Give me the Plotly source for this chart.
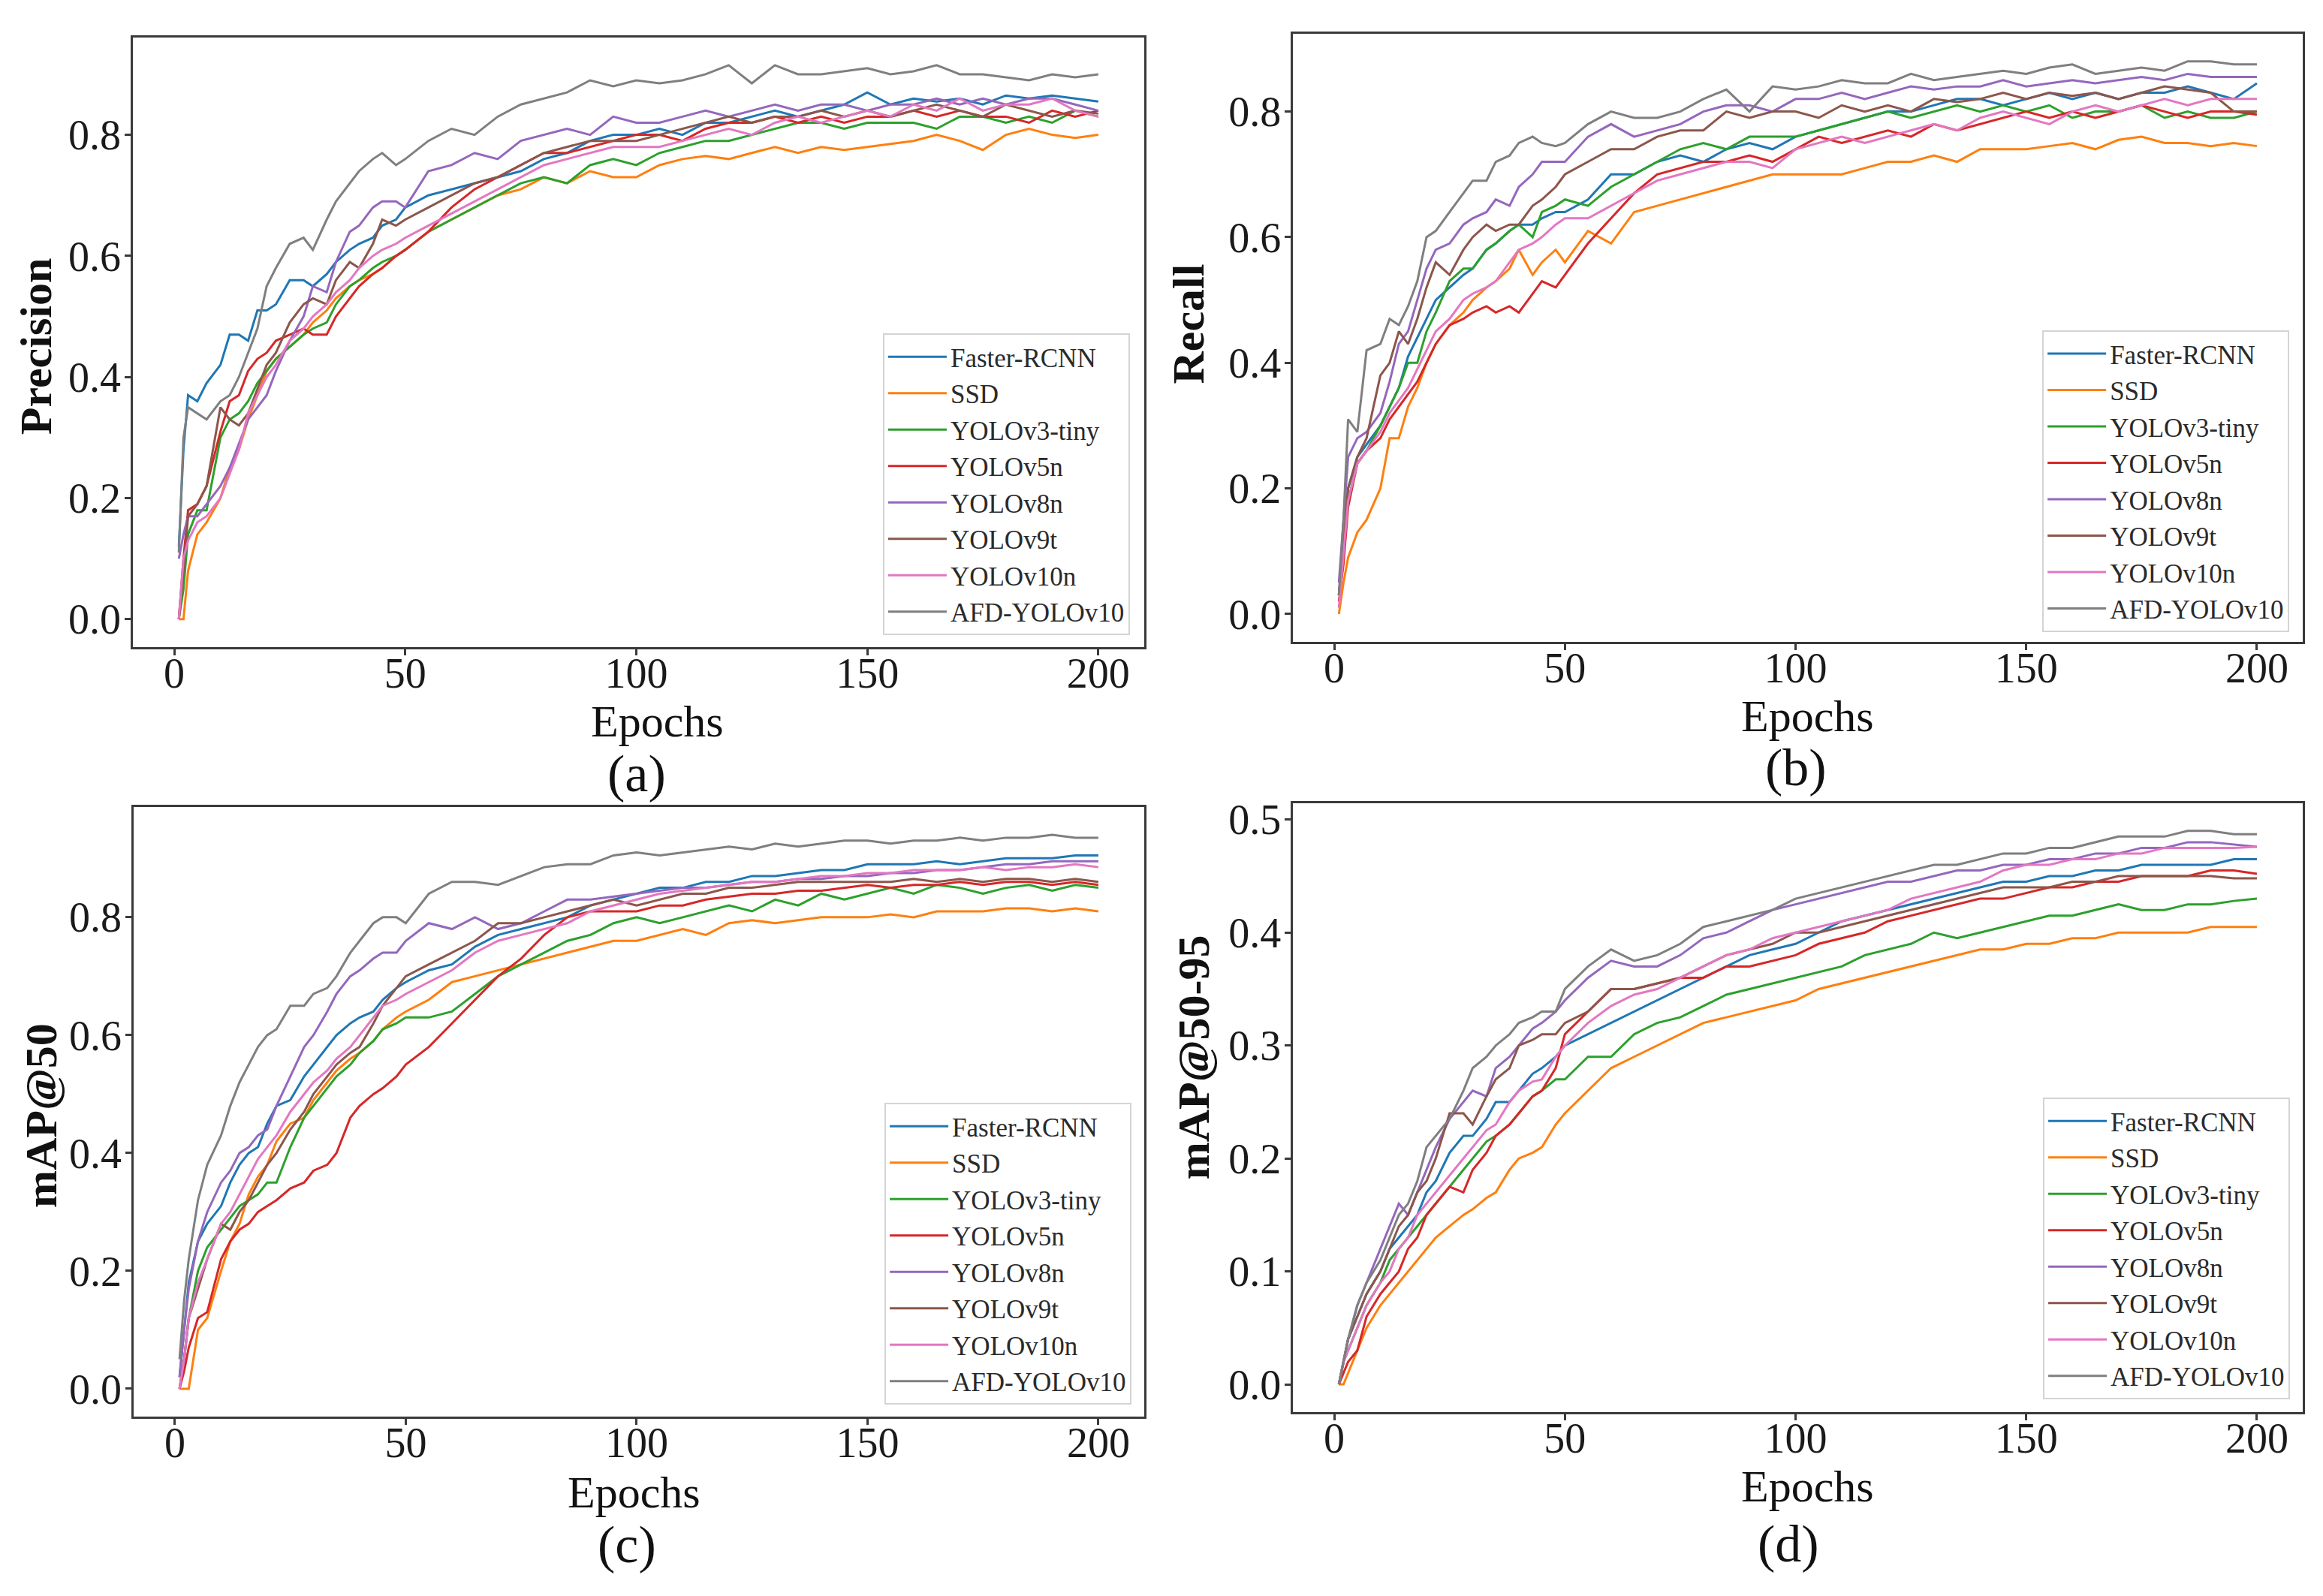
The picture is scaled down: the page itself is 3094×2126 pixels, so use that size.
import plotly.graph_objects as go

epochs = [1, 2, 3, 5, 7, 10, 12, 14, 16, 18,
          20, 22, 25, 28, 30, 33, 35, 38, 40, 43,
          45, 48, 50, 55, 60, 65, 70, 75, 80, 85,
          90, 95, 100, 105, 110, 115, 120, 125, 130, 135,
          140, 145, 150, 155, 160, 165, 170, 175, 180, 185,
          190, 195, 200]

models = ["Faster-RCNN", "SSD", "YOLOv3-tiny", "YOLOv5n",
          "YOLOv8n", "YOLOv9t", "YOLOv10n", "AFD-YOLOv10"]
colors = ["#1f77b4", "#ff7f0e", "#2ca02c", "#d62728",
          "#9467bd", "#8c564b", "#e377c2", "#7f7f7f"]

# (a) Precision
prec_faster = [0.12, 0.28, 0.37, 0.36, 0.39, 0.42, 0.47, 0.47, 0.46, 0.51,
               0.51, 0.52, 0.56, 0.56, 0.55, 0.57, 0.59, 0.61, 0.62, 0.63,
               0.65, 0.66, 0.68, 0.70, 0.71, 0.72, 0.73, 0.74, 0.76, 0.77,
               0.79, 0.80, 0.80, 0.81, 0.80, 0.82, 0.82, 0.83, 0.84, 0.83,
               0.84, 0.85, 0.87, 0.85, 0.86, 0.855, 0.86, 0.85, 0.865, 0.86,
               0.865, 0.86, 0.855]
prec_ssd = [0.0, 0.0, 0.08, 0.14, 0.16, 0.20, 0.25, 0.28, 0.33, 0.37,
            0.41, 0.43, 0.45, 0.47, 0.49, 0.51, 0.53, 0.55, 0.56, 0.57,
            0.58, 0.60, 0.61, 0.64, 0.66, 0.68, 0.70, 0.71, 0.73, 0.72,
            0.74, 0.73, 0.73, 0.75, 0.76, 0.765, 0.76, 0.77, 0.78, 0.77,
            0.78, 0.775, 0.78, 0.785, 0.79, 0.80, 0.79, 0.775, 0.80, 0.81,
            0.80, 0.795, 0.80]
prec_v3 = [0.0, 0.05, 0.14, 0.18, 0.18, 0.30, 0.33, 0.34, 0.36, 0.39,
           0.41, 0.43, 0.45, 0.47, 0.48, 0.49, 0.52, 0.55, 0.56, 0.58,
           0.59, 0.60, 0.61, 0.64, 0.66, 0.68, 0.70, 0.72, 0.73, 0.72,
           0.75, 0.76, 0.75, 0.77, 0.78, 0.79, 0.79, 0.80, 0.81, 0.82,
           0.82, 0.81, 0.82, 0.82, 0.82, 0.81, 0.83, 0.83, 0.82, 0.83,
           0.82, 0.84, 0.83]
prec_v5 = [0.0, 0.10, 0.18, 0.19, 0.22, 0.31, 0.36, 0.37, 0.41, 0.43,
           0.44, 0.46, 0.47, 0.48, 0.47, 0.47, 0.50, 0.53, 0.55, 0.57,
           0.58, 0.60, 0.61, 0.64, 0.68, 0.71, 0.73, 0.75, 0.77, 0.77,
           0.78, 0.79, 0.80, 0.80, 0.79, 0.81, 0.82, 0.82, 0.83, 0.82,
           0.83, 0.82, 0.83, 0.83, 0.84, 0.83, 0.84, 0.83, 0.83, 0.82,
           0.84, 0.83, 0.84]
prec_v8 = [0.10, 0.14, 0.17, 0.17, 0.19, 0.22, 0.25, 0.29, 0.33, 0.35,
           0.37, 0.41, 0.46, 0.50, 0.55, 0.54, 0.59, 0.64, 0.65, 0.68,
           0.69, 0.69, 0.68, 0.74, 0.75, 0.77, 0.76, 0.79, 0.80, 0.81,
           0.80, 0.83, 0.82, 0.82, 0.83, 0.84, 0.83, 0.84, 0.85, 0.84,
           0.85, 0.85, 0.84, 0.85, 0.85, 0.86, 0.85, 0.86, 0.85, 0.86,
           0.86, 0.85, 0.84]
prec_v9 = [0.0, 0.08, 0.17, 0.19, 0.22, 0.35, 0.33, 0.32, 0.34, 0.38,
           0.42, 0.44, 0.49, 0.52, 0.53, 0.52, 0.56, 0.59, 0.58, 0.62,
           0.66, 0.65, 0.66, 0.68, 0.70, 0.72, 0.73, 0.75, 0.77, 0.78,
           0.79, 0.79, 0.79, 0.80, 0.81, 0.82, 0.83, 0.82, 0.83, 0.83,
           0.84, 0.83, 0.84, 0.83, 0.84, 0.85, 0.84, 0.83, 0.85, 0.84,
           0.83, 0.84, 0.835]
prec_v10 = [0.0, 0.10, 0.13, 0.16, 0.17, 0.20, 0.24, 0.28, 0.34, 0.37,
            0.40, 0.42, 0.46, 0.48, 0.50, 0.52, 0.54, 0.56, 0.58, 0.60,
            0.61, 0.62, 0.63, 0.65, 0.67, 0.69, 0.71, 0.73, 0.75, 0.76,
            0.77, 0.78, 0.78, 0.78, 0.79, 0.80, 0.81, 0.80, 0.82, 0.83,
            0.82, 0.83, 0.84, 0.83, 0.85, 0.84, 0.86, 0.84, 0.85, 0.85,
            0.86, 0.84, 0.83]
prec_afd = [0.11, 0.30, 0.35, 0.34, 0.33, 0.36, 0.37, 0.40, 0.44, 0.48,
            0.55, 0.58, 0.62, 0.63, 0.61, 0.66, 0.69, 0.72, 0.74, 0.76,
            0.77, 0.75, 0.76, 0.79, 0.81, 0.80, 0.83, 0.85, 0.86, 0.87,
            0.89, 0.88, 0.89, 0.885, 0.89, 0.90, 0.915, 0.885, 0.915, 0.90,
            0.90, 0.905, 0.91, 0.90, 0.905, 0.915, 0.90, 0.90, 0.895, 0.89,
            0.90, 0.895, 0.90]

# (b) Recall
rec_faster = [0.03, 0.12, 0.20, 0.25, 0.27, 0.30, 0.33, 0.36, 0.41, 0.44,
              0.47, 0.50, 0.52, 0.54, 0.55, 0.58, 0.59, 0.61, 0.62, 0.62,
              0.63, 0.64, 0.64, 0.66, 0.70, 0.70, 0.72, 0.73, 0.72, 0.74,
              0.75, 0.74, 0.76, 0.77, 0.78, 0.79, 0.80, 0.80, 0.81, 0.82,
              0.82, 0.81, 0.82, 0.83, 0.82, 0.83, 0.82, 0.83, 0.83, 0.84,
              0.83, 0.82, 0.845]
rec_ssd = [0.0, 0.05, 0.09, 0.13, 0.15, 0.20, 0.28, 0.28, 0.33, 0.36,
           0.40, 0.43, 0.46, 0.48, 0.50, 0.52, 0.53, 0.55, 0.58, 0.54,
           0.56, 0.58, 0.56, 0.61, 0.59, 0.64, 0.65, 0.66, 0.67, 0.68,
           0.69, 0.70, 0.70, 0.70, 0.70, 0.71, 0.72, 0.72, 0.73, 0.72,
           0.74, 0.74, 0.74, 0.745, 0.75, 0.74, 0.755, 0.76, 0.75, 0.75,
           0.745, 0.75, 0.745]
rec_v3 = [0.03, 0.10, 0.18, 0.24, 0.26, 0.30, 0.33, 0.36, 0.40, 0.40,
          0.45, 0.48, 0.53, 0.55, 0.55, 0.58, 0.59, 0.61, 0.62, 0.60,
          0.64, 0.65, 0.66, 0.65, 0.68, 0.70, 0.72, 0.74, 0.75, 0.74,
          0.76, 0.76, 0.76, 0.77, 0.78, 0.79, 0.80, 0.79, 0.80, 0.81,
          0.80, 0.81, 0.80, 0.81, 0.79, 0.80, 0.80, 0.81, 0.79, 0.80,
          0.79, 0.79, 0.80]
rec_v5 = [0.02, 0.08, 0.17, 0.24, 0.26, 0.28, 0.31, 0.33, 0.35, 0.37,
          0.40, 0.43, 0.46, 0.47, 0.48, 0.49, 0.48, 0.49, 0.48, 0.51,
          0.53, 0.52, 0.54, 0.59, 0.63, 0.67, 0.70, 0.71, 0.72, 0.72,
          0.73, 0.72, 0.74, 0.76, 0.75, 0.76, 0.77, 0.76, 0.78, 0.77,
          0.78, 0.79, 0.80, 0.79, 0.80, 0.79, 0.80, 0.81, 0.80, 0.79,
          0.80, 0.80, 0.795]
rec_v8 = [0.05, 0.15, 0.25, 0.28, 0.29, 0.32, 0.37, 0.43, 0.45, 0.50,
          0.55, 0.58, 0.59, 0.62, 0.63, 0.64, 0.66, 0.65, 0.68, 0.70,
          0.72, 0.72, 0.72, 0.76, 0.78, 0.76, 0.77, 0.78, 0.80, 0.81,
          0.81, 0.80, 0.82, 0.82, 0.83, 0.82, 0.83, 0.84, 0.835, 0.84,
          0.84, 0.85, 0.84, 0.845, 0.85, 0.845, 0.85, 0.855, 0.85, 0.86,
          0.855, 0.855, 0.855]
rec_v9 = [0.03, 0.12, 0.20, 0.25, 0.28, 0.38, 0.40, 0.45, 0.43, 0.47,
          0.52, 0.56, 0.54, 0.58, 0.60, 0.62, 0.61, 0.62, 0.62, 0.65,
          0.66, 0.68, 0.70, 0.72, 0.74, 0.74, 0.76, 0.77, 0.77, 0.80,
          0.79, 0.80, 0.80, 0.79, 0.81, 0.80, 0.81, 0.80, 0.82, 0.815,
          0.82, 0.83, 0.82, 0.83, 0.825, 0.83, 0.82, 0.83, 0.84, 0.835,
          0.83, 0.80, 0.80]
rec_v10 = [0.01, 0.10, 0.18, 0.24, 0.26, 0.29, 0.32, 0.34, 0.36, 0.39,
           0.42, 0.45, 0.47, 0.50, 0.51, 0.52, 0.53, 0.56, 0.58, 0.59,
           0.60, 0.62, 0.63, 0.63, 0.65, 0.67, 0.69, 0.70, 0.71, 0.72,
           0.72, 0.71, 0.74, 0.75, 0.76, 0.75, 0.76, 0.77, 0.78, 0.77,
           0.79, 0.80, 0.79, 0.78, 0.80, 0.81, 0.80, 0.81, 0.82, 0.81,
           0.82, 0.82, 0.82]
rec_afd = [0.03, 0.15, 0.31, 0.29, 0.42, 0.43, 0.47, 0.46, 0.49, 0.53,
           0.60, 0.61, 0.64, 0.67, 0.69, 0.69, 0.72, 0.73, 0.75, 0.76,
           0.75, 0.745, 0.75, 0.78, 0.80, 0.79, 0.79, 0.80, 0.82, 0.835,
           0.80, 0.84, 0.835, 0.84, 0.85, 0.845, 0.845, 0.86, 0.85, 0.855,
           0.86, 0.865, 0.86, 0.87, 0.875, 0.86, 0.865, 0.87, 0.865, 0.88,
           0.88, 0.875, 0.875]

# (c) mAP@50
map50_faster = [0.02, 0.10, 0.18, 0.25, 0.28, 0.31, 0.35, 0.38, 0.40, 0.41,
                0.45, 0.48, 0.49, 0.53, 0.55, 0.58, 0.60, 0.62, 0.63, 0.64,
                0.66, 0.68, 0.69, 0.71, 0.72, 0.75, 0.77, 0.78, 0.79, 0.80,
                0.82, 0.83, 0.84, 0.85, 0.85, 0.86, 0.86, 0.87, 0.87, 0.875,
                0.88, 0.88, 0.89, 0.89, 0.89, 0.895, 0.89, 0.895, 0.90, 0.90,
                0.90, 0.905, 0.905]
map50_ssd = [0.0, 0.0, 0.0, 0.10, 0.12, 0.20, 0.25, 0.28, 0.33, 0.36,
             0.38, 0.42, 0.45, 0.46, 0.49, 0.52, 0.54, 0.56, 0.57, 0.59,
             0.61, 0.63, 0.64, 0.66, 0.69, 0.70, 0.71, 0.72, 0.73, 0.74,
             0.75, 0.76, 0.76, 0.77, 0.78, 0.77, 0.79, 0.795, 0.79, 0.795,
             0.80, 0.80, 0.80, 0.805, 0.80, 0.81, 0.81, 0.81, 0.815, 0.815,
             0.81, 0.815, 0.81]
map50_v3 = [0.0, 0.05, 0.12, 0.20, 0.24, 0.27, 0.29, 0.31, 0.32, 0.33,
            0.35, 0.35, 0.41, 0.46, 0.48, 0.51, 0.53, 0.55, 0.57, 0.59,
            0.61, 0.62, 0.63, 0.63, 0.64, 0.67, 0.70, 0.72, 0.74, 0.76,
            0.77, 0.79, 0.80, 0.79, 0.80, 0.81, 0.82, 0.81, 0.83, 0.82,
            0.84, 0.83, 0.84, 0.85, 0.84, 0.855, 0.85, 0.84, 0.85, 0.855,
            0.845, 0.855, 0.85]
map50_v5 = [0.0, 0.03, 0.07, 0.12, 0.13, 0.22, 0.25, 0.27, 0.28, 0.30,
            0.31, 0.32, 0.34, 0.35, 0.37, 0.38, 0.40, 0.46, 0.48, 0.50,
            0.51, 0.53, 0.55, 0.58, 0.62, 0.66, 0.70, 0.73, 0.77, 0.80,
            0.81, 0.81, 0.81, 0.82, 0.82, 0.83, 0.835, 0.84, 0.84, 0.845,
            0.845, 0.85, 0.855, 0.85, 0.855, 0.855, 0.86, 0.855, 0.86, 0.86,
            0.855, 0.86, 0.855]
map50_v8 = [0.02, 0.10, 0.17, 0.25, 0.30, 0.35, 0.37, 0.40, 0.41, 0.43,
            0.44, 0.48, 0.53, 0.58, 0.60, 0.64, 0.67, 0.70, 0.71, 0.73,
            0.74, 0.74, 0.76, 0.79, 0.78, 0.80, 0.78, 0.79, 0.81, 0.83,
            0.83, 0.835, 0.84, 0.845, 0.85, 0.85, 0.855, 0.86, 0.86, 0.865,
            0.865, 0.87, 0.87, 0.875, 0.875, 0.88, 0.88, 0.885, 0.89, 0.89,
            0.895, 0.895, 0.895]
map50_v9 = [0.0, 0.05, 0.12, 0.17, 0.22, 0.28, 0.27, 0.30, 0.32, 0.35,
            0.38, 0.40, 0.44, 0.47, 0.50, 0.53, 0.55, 0.57, 0.58, 0.62,
            0.65, 0.68, 0.70, 0.72, 0.74, 0.76, 0.79, 0.79, 0.80, 0.81,
            0.82, 0.83, 0.82, 0.83, 0.84, 0.84, 0.85, 0.85, 0.855, 0.86,
            0.86, 0.86, 0.86, 0.86, 0.865, 0.86, 0.865, 0.86, 0.865, 0.865,
            0.86, 0.865, 0.86]
map50_v10 = [0.0, 0.05, 0.12, 0.18, 0.22, 0.28, 0.30, 0.33, 0.36, 0.39,
             0.41, 0.43, 0.47, 0.50, 0.52, 0.54, 0.56, 0.58, 0.60, 0.63,
             0.65, 0.66, 0.67, 0.69, 0.71, 0.74, 0.76, 0.77, 0.78, 0.79,
             0.81, 0.82, 0.83, 0.84, 0.845, 0.85, 0.855, 0.86, 0.86, 0.865,
             0.87, 0.87, 0.875, 0.875, 0.88, 0.88, 0.88, 0.885, 0.88, 0.885,
             0.885, 0.89, 0.885]
map50_afd = [0.05, 0.15, 0.22, 0.32, 0.38, 0.43, 0.48, 0.52, 0.55, 0.58,
             0.60, 0.61, 0.65, 0.65, 0.67, 0.68, 0.70, 0.74, 0.76, 0.79,
             0.80, 0.80, 0.79, 0.84, 0.86, 0.86, 0.855, 0.87, 0.885, 0.89,
             0.89, 0.905, 0.91, 0.905, 0.91, 0.915, 0.92, 0.915, 0.925, 0.92,
             0.925, 0.93, 0.93, 0.925, 0.93, 0.93, 0.935, 0.93, 0.935, 0.935,
             0.94, 0.935, 0.935]

# (d) mAP@50-95
map95_faster = [0.0, 0.02, 0.04, 0.06, 0.08, 0.10, 0.12, 0.13, 0.14, 0.15,
                0.17, 0.18, 0.205, 0.22, 0.22, 0.235, 0.25, 0.25, 0.26, 0.275,
                0.28, 0.29, 0.30, 0.31, 0.32, 0.33, 0.34, 0.35, 0.36, 0.37,
                0.38, 0.385, 0.39, 0.40, 0.41, 0.415, 0.42, 0.425, 0.43, 0.435,
                0.44, 0.445, 0.445, 0.45, 0.45, 0.455, 0.455, 0.46, 0.46, 0.46,
                0.46, 0.465, 0.465]
map95_ssd = [0.0, 0.0, 0.01, 0.03, 0.05, 0.07, 0.08, 0.09, 0.10, 0.11,
             0.12, 0.13, 0.14, 0.15, 0.155, 0.165, 0.17, 0.19, 0.20, 0.205,
             0.21, 0.23, 0.24, 0.26, 0.28, 0.29, 0.30, 0.31, 0.32, 0.325,
             0.33, 0.335, 0.34, 0.35, 0.355, 0.36, 0.365, 0.37, 0.375, 0.38,
             0.385, 0.385, 0.39, 0.39, 0.395, 0.395, 0.40, 0.40, 0.40, 0.40,
             0.405, 0.405, 0.405]
map95_v3 = [0.0, 0.02, 0.03, 0.05, 0.07, 0.09, 0.11, 0.12, 0.13, 0.14,
            0.15, 0.16, 0.175, 0.19, 0.20, 0.215, 0.22, 0.23, 0.24, 0.255,
            0.26, 0.27, 0.27, 0.29, 0.29, 0.31, 0.32, 0.325, 0.335, 0.345,
            0.35, 0.355, 0.36, 0.365, 0.37, 0.38, 0.385, 0.39, 0.40, 0.395,
            0.40, 0.405, 0.41, 0.415, 0.415, 0.42, 0.425, 0.42, 0.42, 0.425,
            0.425, 0.428, 0.43]
map95_v5 = [0.0, 0.01, 0.02, 0.03, 0.06, 0.08, 0.09, 0.10, 0.12, 0.13,
            0.15, 0.16, 0.175, 0.17, 0.19, 0.205, 0.22, 0.23, 0.24, 0.255,
            0.26, 0.28, 0.31, 0.33, 0.35, 0.35, 0.355, 0.36, 0.36, 0.37,
            0.37, 0.375, 0.38, 0.39, 0.395, 0.40, 0.41, 0.415, 0.42, 0.425,
            0.43, 0.43, 0.435, 0.44, 0.44, 0.445, 0.445, 0.45, 0.45, 0.45,
            0.455, 0.455, 0.452]
map95_v8 = [0.0, 0.02, 0.04, 0.07, 0.09, 0.12, 0.14, 0.16, 0.15, 0.17,
            0.19, 0.21, 0.235, 0.25, 0.26, 0.255, 0.28, 0.29, 0.30, 0.315,
            0.32, 0.33, 0.34, 0.36, 0.375, 0.37, 0.37, 0.38, 0.395, 0.40,
            0.41, 0.42, 0.425, 0.43, 0.435, 0.44, 0.445, 0.445, 0.45, 0.455,
            0.455, 0.46, 0.46, 0.465, 0.465, 0.47, 0.47, 0.475, 0.475, 0.48,
            0.48, 0.478, 0.476]
map95_v9 = [0.0, 0.02, 0.04, 0.06, 0.08, 0.10, 0.12, 0.14, 0.15, 0.17,
            0.18, 0.20, 0.24, 0.24, 0.23, 0.255, 0.27, 0.28, 0.30, 0.305,
            0.31, 0.31, 0.32, 0.33, 0.35, 0.35, 0.355, 0.36, 0.37, 0.38,
            0.385, 0.39, 0.40, 0.40, 0.405, 0.41, 0.415, 0.42, 0.425, 0.43,
            0.435, 0.44, 0.44, 0.44, 0.445, 0.445, 0.45, 0.45, 0.45, 0.45,
            0.45, 0.448, 0.448]
map95_v10 = [0.0, 0.02, 0.03, 0.05, 0.07, 0.09, 0.10, 0.12, 0.13, 0.15,
             0.16, 0.17, 0.185, 0.20, 0.21, 0.225, 0.23, 0.25, 0.26, 0.268,
             0.27, 0.29, 0.30, 0.32, 0.335, 0.345, 0.35, 0.36, 0.37, 0.38,
             0.385, 0.395, 0.40, 0.405, 0.41, 0.415, 0.42, 0.43, 0.435, 0.44,
             0.445, 0.455, 0.46, 0.46, 0.465, 0.465, 0.47, 0.47, 0.475, 0.475,
             0.475, 0.475, 0.476]
map95_afd = [0.0, 0.02, 0.04, 0.07, 0.09, 0.11, 0.13, 0.15, 0.16, 0.18,
             0.21, 0.22, 0.235, 0.26, 0.28, 0.29, 0.30, 0.31, 0.32, 0.325,
             0.33, 0.33, 0.35, 0.37, 0.385, 0.375, 0.38, 0.39, 0.405, 0.41,
             0.415, 0.42, 0.43, 0.435, 0.44, 0.445, 0.45, 0.455, 0.46, 0.46,
             0.465, 0.47, 0.47, 0.475, 0.475, 0.48, 0.485, 0.485, 0.485, 0.49,
             0.49, 0.487, 0.487]

panels = [
    ("Precision", "(a)", [prec_faster, prec_ssd, prec_v3, prec_v5, prec_v8, prec_v9, prec_v10, prec_afd],
     [0, 0.2, 0.4, 0.6, 0.8]),
    ("Recall", "(b)", [rec_faster, rec_ssd, rec_v3, rec_v5, rec_v8, rec_v9, rec_v10, rec_afd],
     [0, 0.2, 0.4, 0.6, 0.8]),
    ("mAP@50", "(c)", [map50_faster, map50_ssd, map50_v3, map50_v5, map50_v8, map50_v9, map50_v10, map50_afd],
     [0, 0.2, 0.4, 0.6, 0.8]),
    ("mAP@50-95", "(d)", [map95_faster, map95_ssd, map95_v3, map95_v5, map95_v8, map95_v9, map95_v10, map95_afd],
     [0, 0.1, 0.2, 0.3, 0.4, 0.5]),
]

# subplot boxes in paper coordinates
x_dom = [[0.0572, 0.4926], [0.5566, 0.9913], [0.0575, 0.4926], [0.5566, 0.9913]]
y_dom = [[0.5969, 0.9802], [0.6002, 0.9826], [0.1129, 0.4962], [0.1157, 0.4986]]
ytitle_pos = [(0.0155, 0.786), (0.5116, 0.800), (0.018, 0.302), (0.514, 0.339)]
xtitle_pos = [(0.283, 0.5500), (0.778, 0.5535), (0.273, 0.0650), (0.778, 0.0690)]
label_pos = [(0.274, 0.517), (0.773, 0.521), (0.270, 0.0325), (0.770, 0.033)]
legend_pos = [(0.4864, 0.6044), (0.9855, 0.6063), (0.4871, 0.1204), (0.9858, 0.1237)]

FONT = "Liberation Serif"
fig = go.Figure()
annotations = []
layout = {}

for i, (ytitle, label, series, yticks) in enumerate(panels):
    n = "" if i == 0 else str(i + 1)
    for name, color, values in zip(models, colors, series):
        assert len(values) == len(epochs), (ytitle, name)
        fig.add_trace(go.Scatter(
            x=epochs, y=values, mode="lines", name=name,
            line=dict(color=color, width=3),
            xaxis="x" + n, yaxis="y" + n, legend="legend" + n))

    lo = min(min(s) for s in series)
    hi = max(max(s) for s in series)
    pad = (hi - lo) * 0.05
    axis_common = dict(showline=True, mirror=True, linecolor="#3a3a3a", linewidth=2.5,
                       ticks="outside", ticklen=8, tickwidth=2.5, tickcolor="#3a3a3a",
                       showgrid=False, zeroline=False,
                       tickfont=dict(family=FONT, size=56, color="#1a1a1a"))
    layout["xaxis" + n] = dict(domain=x_dom[i], anchor="y" + n,
                               range=[1 - 199 * 0.05, 200 + 199 * 0.05],
                               tickvals=[0, 50, 100, 150, 200],
                               ticklabelstandoff=-24, **axis_common)
    layout["yaxis" + n] = dict(domain=y_dom[i], anchor="x" + n,
                               range=[lo - pad, hi + pad],
                               tickvals=yticks, tickformat=".1f",
                               ticklabelstandoff=-6, **axis_common)
    layout["legend" + n] = dict(x=legend_pos[i][0], y=legend_pos[i][1],
                                xanchor="right", yanchor="bottom",
                                bgcolor="rgba(255,255,255,0.85)",
                                bordercolor="#d4d4d4", borderwidth=2,
                                font=dict(family=FONT, size=35, color="#2a2a2a"),
                                itemwidth=78)

    annotations.append(dict(text="<b>%s</b>" % ytitle, xref="paper", yref="paper",
                            x=ytitle_pos[i][0], y=ytitle_pos[i][1], textangle=-90,
                            showarrow=False, xanchor="center", yanchor="middle",
                            font=dict(family=FONT, size=60, color="#111111")))
    annotations.append(dict(text="Epochs", xref="paper", yref="paper",
                            x=xtitle_pos[i][0], y=xtitle_pos[i][1],
                            showarrow=False, xanchor="center", yanchor="middle",
                            font=dict(family=FONT, size=60, color="#111111")))
    annotations.append(dict(text=label, xref="paper", yref="paper",
                            x=label_pos[i][0], y=label_pos[i][1],
                            showarrow=False, xanchor="center", yanchor="middle",
                            font=dict(family=FONT, size=70, color="#111111")))

fig.update_layout(width=3094, height=2126, margin=dict(l=0, r=0, t=0, b=0),
                  paper_bgcolor="white", plot_bgcolor="white",
                  annotations=annotations, **layout)
fig.write_html("out.html", config={"displayModeBar": False},
               post_script="document.body.style.margin = '0';")
